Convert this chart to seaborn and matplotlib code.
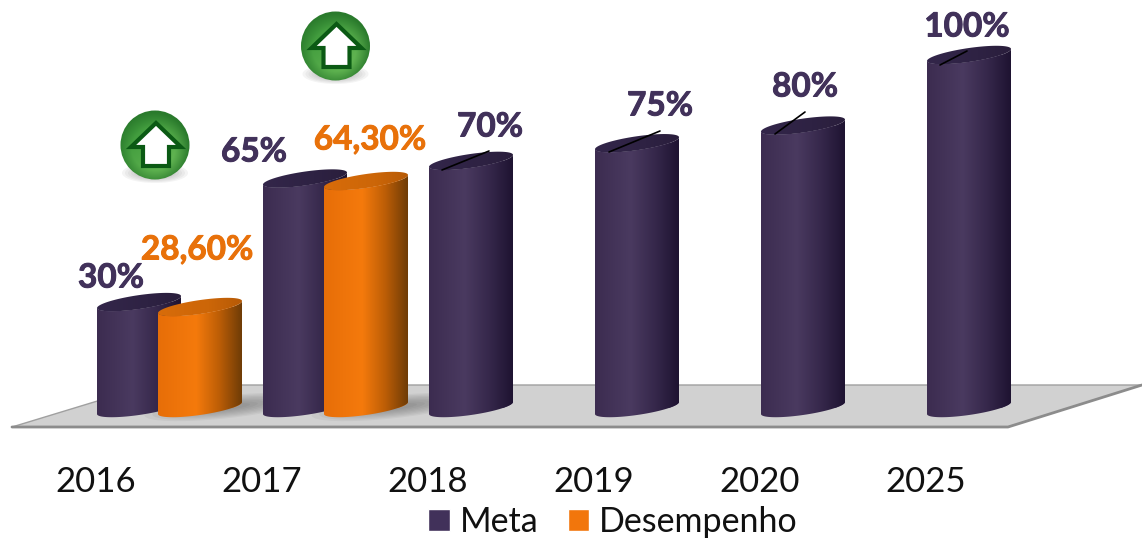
import numpy as np
import pandas as pd
import seaborn as sns
import matplotlib.pyplot as plt
import matplotlib.patheffects as pe
from matplotlib.colors import to_rgb
from matplotlib.patches import Circle, Ellipse, PathPatch, Polygon
from matplotlib.path import Path
from matplotlib.transforms import ScaledTranslation

# dados
anos = ["2016", "2017", "2018", "2019", "2020", "2025"]
meta = [30, 65, 70, 75, 80, 100]
desempenho = [28.6, 64.3, np.nan, np.nan, np.nan, np.nan]
rotulos_meta = ["30%", "65%", "70%", "75%", "80%", "100%"]
rotulos_desemp = ["28,60%", "64,30%"]

# posicao dos rotulos em pixels da figura
pos_meta = [(111, 278), (254, 152), (490, 127), (660, 106), (805, 87), (967, 27)]
pos_desemp = [(197, 250), (370, 140)]
tracos = [((442, 170), (489, 151)), ((609, 152), (660, 131)),
          ((775, 134), (805, 112)), ((940, 65), (967, 51))]
setas = [(155, 145), (335.5, 46)]

roxo = "#41315a"
laranja = "#f2760c"

W, H = 1142, 538
PX_POR_PONTO = 3.53   # pixels por 1%
BASE_PX = 408
FUNDO_AX_PX = 455

sns.set_theme(style="white")
plt.rcParams["font.family"] = ["Lato", "DejaVu Sans"]

df = pd.DataFrame({
    "ano": anos * 2,
    "valor": meta + desempenho,
    "serie": ["Meta"] * 6 + ["Desempenho"] * 6,
})

fig = plt.figure(figsize=(W / 100, H / 100), dpi=100)

# eixo de fundo, em pixels: piso, sombras, setas
bg = fig.add_axes([0, 0, 1, 1], zorder=0)
bg.set_xlim(0, W)
bg.set_ylim(H, 0)
bg.axis("off")

bg.add_patch(Polygon([(12, 427), (1008, 427), (1142, 385), (150, 385)],
                     facecolor="#d1d1d1", edgecolor="none"))
bg.plot([12, 150, 1142], [427, 385, 385], color="#a0a0a0", lw=1)
bg.plot([12, 1008, 1142], [427, 427, 385], color="#8c8c8c", lw=2)

for cx in [225, 392]:
    for k in range(8):
        bg.add_patch(Ellipse((cx, 407), 50 + k * 16, 6 + k * 2.4, angle=-6,
                             facecolor="#555555", alpha=0.07, edgecolor="none"))


def gradiente(paradas):
    pos = [p for p, c in paradas]
    cores = np.array([to_rgb(c) for p, c in paradas])
    xs = np.linspace(0, 1, 256)
    return np.dstack([np.interp(xs, pos, cores[:, i]) for i in range(3)]).reshape(1, 256, 3)


def seta(ax_, cx, cy):
    for k in range(5):
        ax_.add_patch(Ellipse((cx, cy + 28), 66 - k * 6, 20 - k * 2, facecolor="#888888",
                              alpha=0.09, edgecolor="none"))
    ys, xs = np.mgrid[-1:1:200j, -1:1:200j]
    d = np.sqrt((xs + 0.05) ** 2 + (ys - 0.1) ** 2)
    lado = np.clip((xs + ys) * 0.5 + 0.5, 0, 1)
    base = np.array(to_rgb("#3f9a3c"))
    claro = np.array(to_rgb("#62b552"))
    borda = np.array(to_rgb("#2a7a2c"))
    img = base + (claro - base)[None, None, :] * lado[..., None]
    img = img + (borda - img) * np.clip((d - 0.62) / 0.42, 0, 1)[..., None]
    r = 35
    im = ax_.imshow(img, extent=(cx - r, cx + r, cy + r, cy - r), aspect="auto", zorder=3)
    c = Circle((cx, cy), r - 0.5, transform=ax_.transData)
    im.set_clip_path(c)
    pts = [(0, -22), (25, 2), (13, 2), (13, 21), (-13, 21), (-13, 2), (-25, 2)]
    ax_.add_patch(Polygon([(cx + 1 + a, cy + b) for a, b in pts], facecolor="white",
                          edgecolor="#0b5a14", lw=3, joinstyle="miter", zorder=4))


for cx, cy in setas:
    seta(bg, cx, cy)
bg.set_xlim(0, W)
bg.set_ylim(H, 0)

# eixo das barras
ax = fig.add_axes([0, 1 - FUNDO_AX_PX / H, 1, FUNDO_AX_PX / H], zorder=1)
ax.patch.set_alpha(0)
sns.barplot(data=df, x="ano", y="valor", hue="serie",
            palette={"Meta": roxo, "Desempenho": laranja},
            width=0.735, gap=-0.377, saturation=1, ax=ax)

xlim = (-169.5 / 166, (W - 169.5) / 166)
ylim = ((BASE_PX - FUNDO_AX_PX) / PX_POR_PONTO, BASE_PX / PX_POR_PONTO)
ax.set_xlim(xlim)
ax.set_ylim(ylim)

corpo = {
    0: [(0, "#3c2c50"), (0.42, "#4a3a60"), (0.72, "#35274a"), (1, "#1d1230")],
    1: [(0, "#e76e08"), (0.45, "#f57a0c"), (0.72, "#bd5e06"), (1, "#6b3a06")],
}
tampa = {
    0: [(0, "#33264a"), (0.6, "#2e2243"), (1, "#2a1e3c")],
    1: [(0, "#d86c0a"), (0.6, "#cc6608"), (1, "#b65a06")],
}

inclina = 6.0 / PX_POR_PONTO   # metade do desnivel entre os lados da barra
semi = 7.0 / PX_POR_PONTO      # semi-eixo vertical da elipse
t = np.linspace(0, np.pi, 60)

for i, barras in enumerate(ax.containers):
    for bar in barras:
        v = bar.get_height()
        if np.isnan(v):
            continue
        x0, w = bar.get_x(), bar.get_width()
        cx = x0 + w / 2
        xs = cx + w / 2 * np.cos(t)

        # corpo: arco de baixo da tampa + arco de baixo da base
        lado_topo = v + inclina * np.cos(t) - semi * np.sin(t)
        lado_base = 0 + inclina * np.cos(t) - semi * np.sin(t)
        verts = np.r_[np.c_[xs, lado_topo], np.c_[xs[::-1], lado_base[::-1]], [[xs[0], lado_topo[0]]]]
        p_corpo = Path(verts)
        bar.set_clip_path(PathPatch(p_corpo, transform=ax.transData))
        bar.set_zorder(2 + i)
        bar.set_linewidth(0)

        im = ax.imshow(gradiente(corpo[i]), extent=(x0, x0 + w, -5, v + 5), aspect="auto",
                       zorder=2 + i, interpolation="bilinear")
        im.set_clip_path(PathPatch(p_corpo, transform=ax.transData))

        # tampa
        ell = np.r_[np.c_[xs, v + inclina * np.cos(t) + semi * np.sin(t)],
                    np.c_[xs[::-1], lado_topo[::-1]]]
        im2 = ax.imshow(gradiente(tampa[i]), extent=(x0, x0 + w, v - 5, v + 5), aspect="auto",
                        zorder=2 + i, interpolation="bilinear")
        im2.set_clip_path(PathPatch(Path(ell), transform=ax.transData))

ax.set_xlim(xlim)
ax.set_ylim(ylim)

# rotulos e tracos
grosso = [pe.withStroke(linewidth=0.7, foreground="#41315a")]
grosso2 = [pe.withStroke(linewidth=0.7, foreground="#e8710a")]
for txt, (x, y) in zip(rotulos_meta, pos_meta):
    ax.text(x, y, txt, transform=bg.transData, color="#41315a", fontsize=24, fontweight="bold",
            ha="center", va="center", zorder=6, path_effects=grosso)
for txt, (x, y) in zip(rotulos_desemp, pos_desemp):
    ax.text(x, y, txt, transform=bg.transData, color="#e8710a", fontsize=24, fontweight="bold",
            ha="center", va="center", zorder=6, path_effects=grosso2)
for a, b in tracos:
    ax.plot([a[0], b[0]], [a[1], b[1]], transform=bg.transData, color="black", lw=1.2, zorder=6)

# eixo x
sns.despine(ax=ax, left=True, bottom=True)
ax.set_xlabel("")
ax.set_ylabel("")
ax.set_yticks([])
ax.tick_params(axis="x", length=0, pad=8, labelsize=25, labelcolor="#111111")
desloca = ScaledTranslation(-74 / 100, 0, fig.dpi_scale_trans)
for lab in ax.get_xticklabels():
    lab.set_transform(lab.get_transform() + desloca)

# legenda
sns.move_legend(ax, "center", bbox_to_anchor=(613 / W, 1 - 522 / H), bbox_transform=fig.transFigure,
                ncol=2, frameon=False, title=None, fontsize=24.5, handlelength=0.63, handleheight=0.63,
                handletextpad=0.3, columnspacing=0.85, borderpad=0, labelcolor="#111111")

fig.savefig("out.png", dpi=100)
